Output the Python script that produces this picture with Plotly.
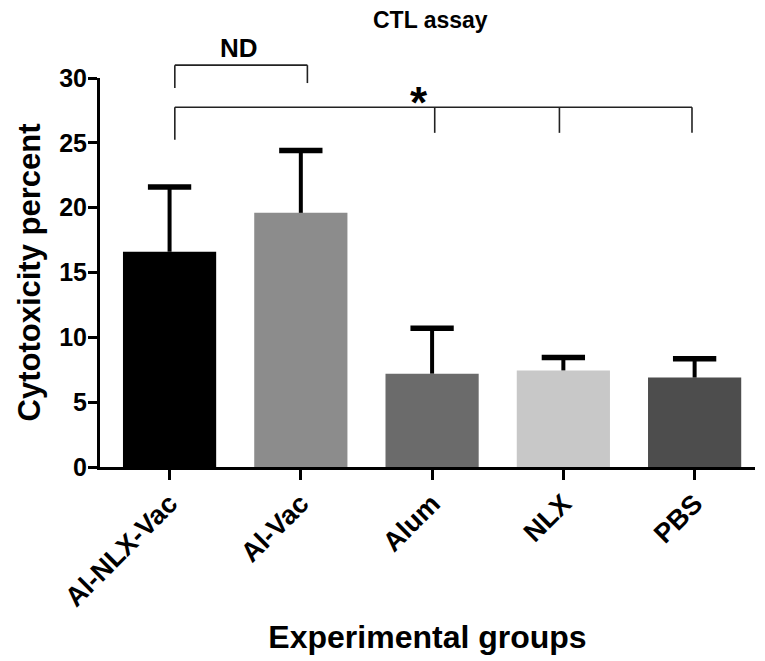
import plotly.graph_objects as go

categories = ["Al-NLX-Vac", "Al-Vac", "Alum", "NLX", "PBS"]
means = [16.6, 19.6, 7.2, 7.45, 6.9]
errors = [5.0, 4.8, 3.5, 1.0, 1.45]
colors = ["#000000", "#8c8c8c", "#6b6b6b", "#c8c8c8", "#4d4d4d"]
y_ticks = [0, 5, 10, 15, 20, 25, 30]

FONT = "Liberation Sans, Arial, sans-serif"
CAP = 0.165  # half-width of error caps in category units

fig = go.Figure()
fig.add_trace(go.Bar(
    x=list(range(len(categories))), y=means,
    marker=dict(color=colors, line=dict(width=0)),
    width=0.71, showlegend=False, hoverinfo="skip",
))

# upper-only error bars: stems from bar top, then caps at mean+error
sx, sy, cx, cy = [], [], [], []
for i, (m, e) in enumerate(zip(means, errors)):
    sx += [i, i, None]
    sy += [m, m + e, None]
    cx += [i - CAP, i + CAP, None]
    cy += [m + e, m + e, None]
fig.add_trace(go.Scatter(x=sx, y=sy, mode="lines", line=dict(color="#000", width=4),
                         showlegend=False, hoverinfo="skip", cliponaxis=False))
fig.add_trace(go.Scatter(x=cx, y=cy, mode="lines", line=dict(color="#000", width=5.5),
                         showlegend=False, hoverinfo="skip", cliponaxis=False))

def line(x0, y0, x1, y1):
    fig.add_shape(type="line", xref="x", yref="paper", x0=x0, y0=y0, x1=x1, y1=y1,
                  line=dict(color="#222222", width=1.6))

# ND bracket
line(0.04, 1.033, 1.05, 1.033)
line(0.04, 1.033, 0.04, 0.974)
line(1.05, 1.033, 1.05, 0.987)
# * bracket
line(0.04, 0.925, 3.98, 0.925)
line(0.04, 0.925, 0.04, 0.841)
for xx in [2.02, 2.97, 3.98]:
    line(xx, 0.925, xx, 0.859)

fig.add_annotation(x=0.53, xref="x", y=1.077, yref="paper", text="ND",
                   showarrow=False, yanchor="middle",
                   font=dict(family=FONT, size=26, color="#000", weight="bold"))
fig.add_annotation(x=1.9, xref="x", y=0.938, yref="paper", text="*",
                   showarrow=False, yanchor="middle",
                   font=dict(family=FONT, size=44, color="#000", weight="bold"))

fig.update_layout(
    width=765, height=661,
    margin=dict(l=100, r=10, t=78, b=194),
    paper_bgcolor="white", plot_bgcolor="white",
    title=dict(text="CTL assay", x=0.5625, xanchor="center", y=0.97, yanchor="middle",
               font=dict(family=FONT, size=23, color="#000", weight="bold")),
    font=dict(family=FONT, color="#000"),
)
fig.update_xaxes(
    range=[-0.53, 4.46], tickmode="array", tickvals=list(range(len(categories))),
    ticktext=categories, tickangle=-45, automargin=False, ticklabelstandoff=-3,
    tickfont=dict(family=FONT, size=27, color="#000", weight="bold"),
    showline=True, linecolor="#000", linewidth=3,
    ticks="outside", ticklen=10, tickwidth=3, tickcolor="#000",
    showgrid=False, zeroline=False,
    title=dict(text="Experimental groups", standoff=14,
               font=dict(family=FONT, size=32, color="#000", weight="bold")),
)
fig.update_yaxes(
    range=[0, 30], tickmode="array", tickvals=y_ticks, automargin=False,
    ticklabelstandoff=-4,
    tickfont=dict(family=FONT, size=25, color="#000", weight="bold"),
    showline=True, linecolor="#000", linewidth=3,
    ticks="outside", ticklen=9, tickwidth=3, tickcolor="#000",
    showgrid=False, zeroline=False,
    title=dict(text="Cytotoxicity percent", standoff=10,
               font=dict(family=FONT, size=31, color="#000", weight="bold")),
)

fig.write_html("out.html", config={"displayModeBar": False},
               post_script="document.body.style.margin='0px';")
